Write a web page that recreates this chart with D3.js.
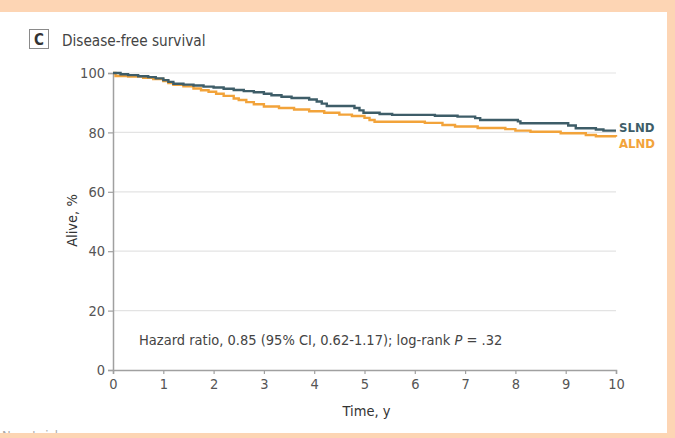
<!DOCTYPE html>
<html>
<head>
<meta charset="utf-8">
<script src="https://cdn.jsdelivr.net/npm/d3@7"></script>
<style>
  html, body { margin: 0; padding: 0; background: #fdd5b4; }
  svg { display: block; }
  text { font-family: "Liberation Sans Narrow", "DejaVu Sans Condensed", "Roboto", sans-serif; }
</style>
</head>
<body>
<script>
// Kaplan-Meier change points: time (years) and percent alive after each step
const slndTimes = [0, 0.15, 0.3, 0.5, 0.7, 0.85, 1.0, 1.1, 1.2, 1.4, 1.6, 1.8, 2.0, 2.2, 2.4, 2.6, 2.8, 3.0, 3.15, 3.35, 3.55, 3.9, 4.05, 4.15, 4.25, 4.8, 4.9, 4.98, 5.3, 5.55, 6.4, 6.85, 7.2, 7.3, 8.05, 8.1, 9.05, 9.2, 9.6, 9.75, 10];
const slndAlive = [100, 99.6, 99.3, 98.9, 98.6, 98.2, 97.6, 97.0, 96.4, 96.1, 95.8, 95.4, 95.1, 94.7, 94.3, 93.9, 93.5, 93.0, 92.5, 92.0, 91.6, 91.1, 90.4, 89.7, 88.9, 88.2, 87.4, 86.6, 86.2, 85.9, 85.6, 85.3, 84.8, 84.2, 83.7, 83.1, 82.3, 81.4, 81.0, 80.6, 80.6];

const alndTimes = [0, 0.05, 0.3, 0.6, 0.8, 1.0, 1.1, 1.2, 1.4, 1.6, 1.75, 1.9, 2.05, 2.2, 2.4, 2.5, 2.65, 2.8, 3.0, 3.3, 3.6, 3.9, 4.2, 4.5, 4.75, 5.0, 5.1, 5.2, 6.2, 6.55, 6.8, 7.25, 7.8, 8.0, 8.3, 8.9, 9.4, 9.6, 10];
const alndAlive = [100, 99.0, 98.8, 98.4, 98.0, 97.3, 96.6, 96.0, 95.5, 94.8, 94.2, 93.7, 93.0, 92.3, 91.4, 90.9, 90.2, 89.5, 88.7, 88.2, 87.7, 87.1, 86.6, 86.0, 85.5, 84.9, 84.2, 83.6, 83.2, 82.5, 82.0, 81.5, 81.1, 80.6, 80.2, 79.7, 79.1, 78.7, 78.5];

const seriesNames = ["SLND", "ALND"];
const seriesColors = ["#3e5d68", "#f2a33a"];

const xTicks = [0, 1, 2, 3, 4, 5, 6, 7, 8, 9, 10];
const yTicks = [0, 20, 40, 60, 80, 100];
const gridValues = [20, 40, 60, 80, 100];

const W = 675, H = 438;

const svg = d3.select("body").append("svg")
  .attr("width", W).attr("height", H);

// white panel inside the peach frame
svg.append("rect")
  .attr("x", 0).attr("y", 12).attr("width", 667).attr("height", 421)
  .attr("fill", "#ffffff");

const x = d3.scaleLinear().domain([0, 10]).range([113, 616]);
const y = d3.scaleLinear().domain([0, 100]).range([370, 73]);

// panel title
svg.append("rect")
  .attr("x", 29.5).attr("y", 29.5).attr("width", 19).attr("height", 19)
  .attr("fill", "none").attr("stroke", "#8a8a8a").attr("stroke-width", 1);
svg.append("text")
  .attr("x", 39).attr("y", 45).attr("text-anchor", "middle")
  .attr("font-size", 15).attr("font-weight", "bold").attr("fill", "#333")
  .text("C");
svg.append("text")
  .attr("x", 62).attr("y", 46)
  .attr("font-size", 15.2).attr("fill", "#444")
  .text("Disease-free survival");

// horizontal gridlines
svg.append("g").selectAll("line").data(gridValues).join("line")
  .attr("x1", x(0)).attr("x2", x(10))
  .attr("y1", d => y(d)).attr("y2", d => y(d))
  .attr("stroke", "#e3e3e3").attr("stroke-width", 1.2);

// axes
const yAxis = svg.append("g")
  .attr("transform", `translate(${x(0)},0)`)
  .call(d3.axisLeft(y).tickValues(yTicks).tickSize(5).tickPadding(3));
const xAxis = svg.append("g")
  .attr("transform", `translate(0,${y(0)})`)
  .call(d3.axisBottom(x).tickValues(xTicks).tickSize(4).tickPadding(5));

[yAxis, xAxis].forEach(g => {
  g.select(".domain").attr("stroke", "#a0a0a0").attr("stroke-width", 1.5);
  g.selectAll(".tick line").attr("stroke", "#a0a0a0").attr("stroke-width", 1.2);
  g.selectAll(".tick text")
    .attr("fill", "#555").attr("font-size", 14.5)
    .style("font-family", '"Liberation Sans Narrow", "DejaVu Sans Condensed", sans-serif');
});

// axis titles
svg.append("text")
  .attr("x", (x(0) + x(10)) / 2 + 2).attr("y", 416).attr("text-anchor", "middle")
  .attr("font-size", 14.5).attr("fill", "#333")
  .text("Time, y");
svg.append("text")
  .attr("transform", `translate(77,${y(50) - 1}) rotate(-90)`)
  .attr("text-anchor", "middle")
  .attr("font-size", 14.5).attr("fill", "#333")
  .text("Alive, %");

// survival step curves
const line = d3.line()
  .x(d => x(d[0])).y(d => y(d[1]))
  .curve(d3.curveStepAfter);

const curves = [
  d3.zip(alndTimes, alndAlive),
  d3.zip(slndTimes, slndAlive)
];
const curveColors = [seriesColors[1], seriesColors[0]];

svg.append("g").selectAll("path").data(curves).join("path")
  .attr("d", line)
  .attr("fill", "none")
  .attr("stroke", (d, i) => curveColors[i])
  .attr("stroke-width", 2.4);

// end-of-curve labels
const endLabels = [
  { name: seriesNames[0], value: slndAlive[slndAlive.length - 1], dy: -2.5, color: seriesColors[0] },
  { name: seriesNames[1], value: alndAlive[alndAlive.length - 1], dy: 7.5, color: seriesColors[1] }
];
svg.append("g").selectAll("text").data(endLabels).join("text")
  .attr("x", x(10) + 3)
  .attr("y", d => y(d.value) + d.dy)
  .attr("dominant-baseline", "middle")
  .attr("font-size", 13).attr("font-weight", "bold")
  .attr("fill", d => d.color)
  .text(d => d.name);

// statistics annotation
const note = svg.append("text")
  .attr("x", 139).attr("y", 345)
  .attr("font-size", 14.5).attr("fill", "#444");
note.append("tspan").text("Hazard ratio, 0.85 (95% CI, 0.62-1.17); log-rank ");
note.append("tspan").attr("font-style", "italic").text("P");
note.append("tspan").text(" = .32");

// table header partly hidden below the panel edge
svg.append("text")
  .attr("x", 2).attr("y", 440)
  .attr("font-size", 13).attr("fill", "#aaa")
  .text("No. at risk");

// peach frame on top
svg.append("rect").attr("x", 0).attr("y", 0).attr("width", W).attr("height", 12).attr("fill", "#fdd5b4");
svg.append("rect").attr("x", 0).attr("y", 433).attr("width", W).attr("height", 5).attr("fill", "#fdd5b4");
svg.append("rect").attr("x", 667).attr("y", 0).attr("width", 8).attr("height", H).attr("fill", "#fdd5b4");
</script>
</body>
</html>
